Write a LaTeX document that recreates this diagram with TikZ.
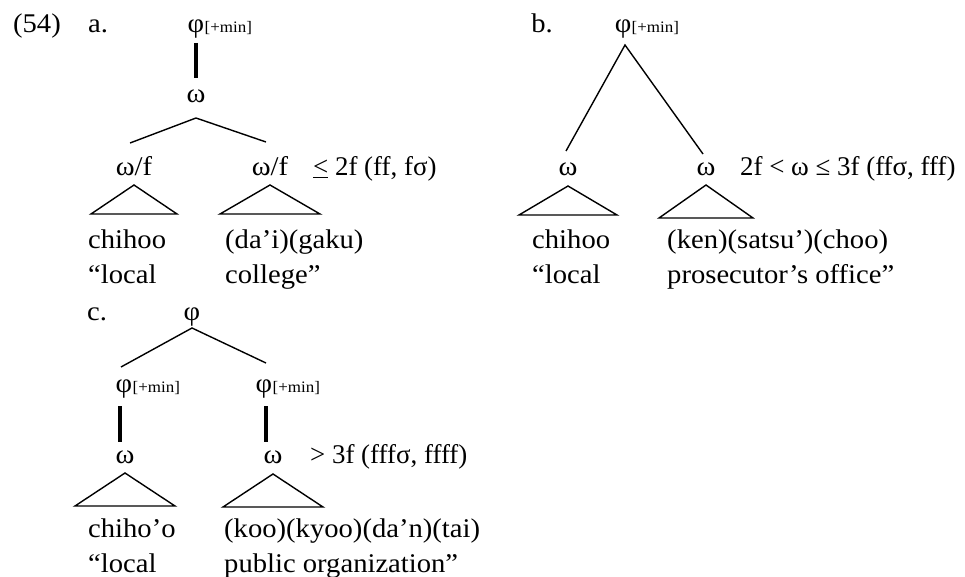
\documentclass[tikz,border=0pt]{standalone}
\usepackage{fontspec}
\usepackage{tikz}

\setmainfont{Liberation Serif}

\tikzset{
	txt/.style = {inner sep = 0, xscale = 1.06, font = \fontsize{27}{32}\selectfont},
	lbl/.style = {txt, anchor = base},
	word/.style = {txt, anchor = base west},
	cond/.style = {word, xscale = 0.94},
	sub/.style = {inner sep = 0, xscale = 1.06, anchor = base west, font = \fontsize{16}{18}\selectfont},
	branch/.style = {line width = 1.4pt},
	stem/.style = {line width = 3.2pt}
}

\begin{document}
\begin{tikzpicture}[x = 1pt, y = -1pt]

	\useasboundingbox (0, 0) rectangle (965, 577);

	% Example labels

	\node [lbl] (ex) at (37, 33) {(54)};
	\node [lbl] (la) at (98, 33) {a.};
	\node [lbl] (lb) at (542, 33) {b.};
	\node [lbl] (lc) at (97, 320) {c.};

	% Tree a

	\node [lbl] (aroot) at (196, 33) {φ};
	\node [sub] (amin) at (aroot.base east) {[+min]};
	\node [lbl] (aomega) at (196, 103) {ω};
	\node [lbl] (aleft) at (134, 176) {ω/f};
	\node [lbl] (aright) at (270, 176) {ω/f};
	\node [cond] (acond) at (313, 176) {\underline{<} 2f (ff, fσ)};

	\node [word] (aw1) at (88, 248) {chihoo};
	\node [word] (ag1) at (88, 283) {“local};
	\node [word] (aw2) at (225, 248) {(da’i)(gaku)};
	\node [word] (ag2) at (225, 283) {college”};

	\draw [stem] ([yshift = -10pt] aroot.base) -- ([yshift = 25pt] aomega.base);
	\draw [branch] ([xshift = -4pt, yshift = 33pt] aleft.base) -- ([yshift = -15pt] aomega.base)
		-- ([xshift = -4pt, yshift = 34pt] aright.base);

	% Tree b

	\node [lbl] (broot) at (623, 33) {φ};
	\node [sub] (bmin) at (broot.base east) {[+min]};
	\node [lbl] (bleft) at (568, 176) {ω};
	\node [lbl] (bright) at (706, 176) {ω};
	\node [cond] (bcond) at (740, 176) {2f < ω ≤ 3f (ffσ, fff)};

	\node [word] (bw1) at (532, 248) {chihoo};
	\node [word] (bg1) at (532, 283) {“local};
	\node [word] (bw2) at (667, 248) {(ken)(satsu’)(choo)};
	\node [word] (bg2) at (667, 283) {prosecutor’s office”};

	\draw [branch] ([xshift = -2pt, yshift = 25pt] bleft.base) -- ([xshift = 2pt, yshift = -12pt] broot.base)
		-- ([xshift = -3pt, yshift = 22pt] bright.base);

	% Tree c

	\node [lbl] (croot) at (192, 320) {φ};
	\node [lbl] (cleft) at (124, 392) {φ};
	\node [sub] (clmin) at (cleft.base east) {[+min]};
	\node [lbl] (cright) at (264, 392) {φ};
	\node [sub] (crmin) at (cright.base east) {[+min]};
	\node [lbl] (clw) at (125, 463) {ω};
	\node [lbl] (crw) at (273, 463) {ω};
	\node [cond] (ccond) at (310, 463) {> 3f (fffσ, ffff)};

	\node [word] (cw1) at (88, 537) {chiho’o};
	\node [word] (cg1) at (88, 572) {“local};
	\node [word] (cw2) at (224, 537) {(koo)(kyoo)(da’n)(tai)};
	\node [word] (cg2) at (224, 572) {public organization”};

	\draw [branch] ([xshift = -3pt, yshift = 25pt] cleft.base) -- ([yshift = -8pt] croot.base)
		-- ([xshift = 2pt, yshift = 29pt] cright.base);
	\draw [stem] ([xshift = -4pt, yshift = -14pt] cleft.base) -- ([xshift = -5pt, yshift = 21pt] clw.base);
	\draw [stem] ([xshift = 2pt, yshift = -14pt] cright.base) -- ([xshift = -7pt, yshift = 21pt] crw.base);

	% Triangles

	\foreach \n/\w/\h/\d in {aleft/43/29/9, aright/50/29/9, bleft/49/29/10,
			bright/47/33/9, clw/50/33/10, crw/50/33/11}
		\draw [branch] ([yshift = -\d pt] \n.base) -- ++(-\w, \h) -- ++(2 * \w, 0) -- cycle;

\end{tikzpicture}
\end{document}
